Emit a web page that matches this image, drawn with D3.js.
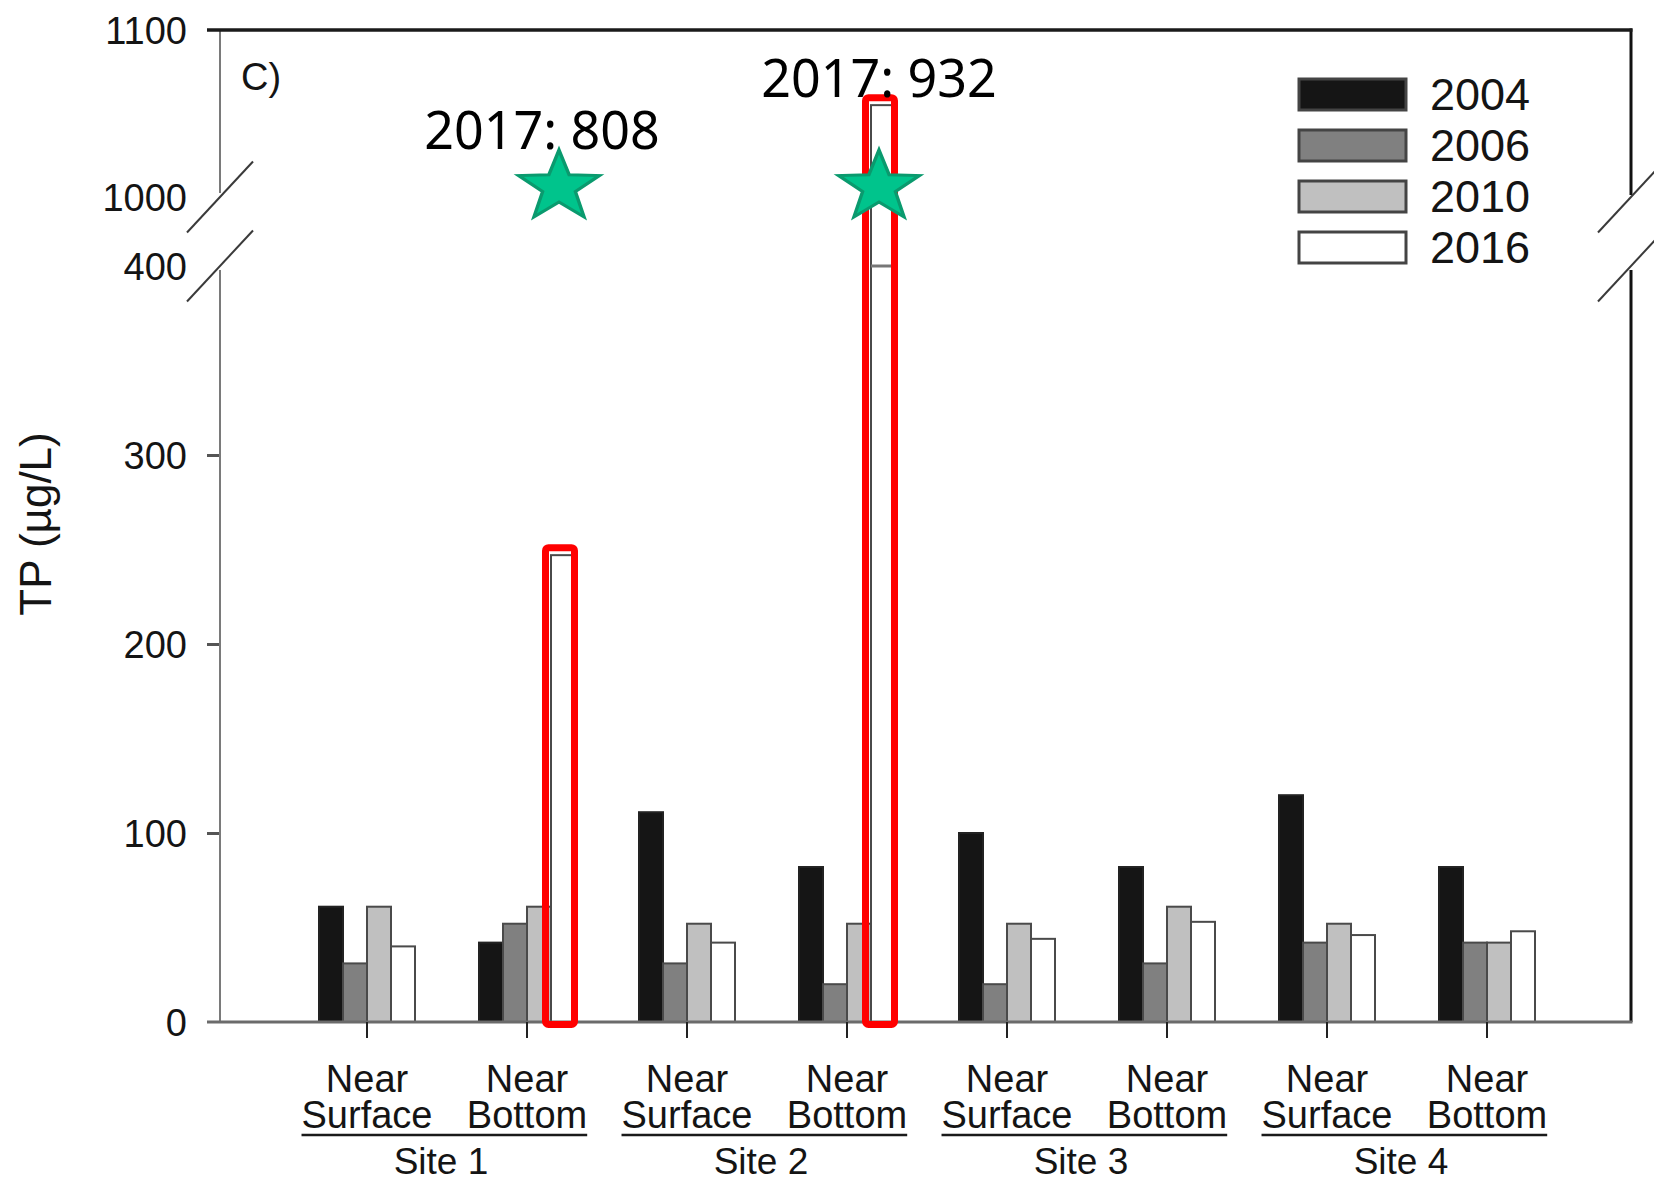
<!DOCTYPE html>
<html lang="en">
<head>
    <meta charset="UTF-8">
    <title>TP by site and depth - D3.js v7</title>
    <script src="https://d3js.org/d3.v7.min.js"></script>
    <style>
        body {
            margin: 0;
            background: #fff;
        }

        .tick-label,
        .cat-label,
        .legend-label,
        .axis-label,
        .panel-label {
            font-family: "Liberation Sans", Arial, sans-serif;
            fill: #141414;
        }

        .note {
            font-family: "Noto Sans", "Open Sans", sans-serif;
            fill: #000;
        }
    </style>
</head>
<body>
    <div id="chart"></div>

    <script>
        // data (TP, ug/L)
        const sites = ["Site 1", "Site 2", "Site 3", "Site 4"];
        const depths = ["Near Surface", "Near Bottom"];
        const years = ["2004", "2006", "2010", "2016"];

        const tp2004 = [61, 42, 111, 82, 100, 82, 120, 82];
        const tp2006 = [31, 52, 31, 20, 20, 31, 42, 42];
        const tp2010 = [61, 61, 52, 52, 52, 61, 52, 42];
        const tp2016 = [40, 247, 42, 1055, 44, 53, 46, 48];

        const yTicks = [0, 100, 200, 300, 400, 1000, 1100];
        const breakValues = [400, 1000];

        // 2017 call-outs: group index and value
        const notes = [
            { group: 1, year: "2017", value: 808 },
            { group: 3, year: "2017", value: 932 }
        ];
        const starLevel = 1006;

        const fills = { "2004": "#151515", "2006": "#808080", "2010": "#c0c0c0", "2016": "#ffffff" };

        // layout
        const W = 1654, H = 1181;
        const plotLeft = 220, plotRight = 1631, plotTop = 30, plotBottom = 1022;
        const noteShift = [-17, 0]; // the first note sits a little left of its star

        const svg = d3.select("#chart").append("svg")
            .attr("width", W)
            .attr("height", H);

        svg.append("rect").attr("width", W).attr("height", H).attr("fill", "#fff");

        // broken y scale: 0-400 below the break, 1000-1100 above
        const y = d3.scaleLinear()
            .domain([0, 400, 1000, 1100])
            .range([plotBottom, 266, 197, plotTop]);

        // groups: site x depth
        const groups = [];
        sites.forEach(s => depths.forEach(d => groups.push({ site: s, depth: d })));
        groups.forEach((g, i) => {
            g.key = i;
            g.values = { "2004": tp2004[i], "2006": tp2006[i], "2010": tp2010[i], "2016": tp2016[i] };
        });

        const x = d3.scaleBand()
            .domain(groups.map(g => g.key))
            .range([287, 1567]);

        const xYear = d3.scaleBand()
            .domain(years)
            .range([32, 128]);

        const center = k => x(k) + x.bandwidth() / 2;

        // bars
        const bars = svg.append("g").attr("class", "bars");
        groups.forEach(g => {
            years.forEach(yr => {
                const v = g.values[yr];
                bars.append("rect")
                    .attr("x", x(g.key) + xYear(yr))
                    .attr("y", y(v))
                    .attr("width", xYear.bandwidth())
                    .attr("height", y(0) - y(v))
                    .attr("fill", fills[yr])
                    .attr("stroke", yr === "2004" ? "#222" : "#4a4a4a")
                    .attr("stroke-width", 2);
                // bars that cross the break get a line at the break
                if (v > breakValues[1]) {
                    bars.append("line")
                        .attr("x1", x(g.key) + xYear(yr))
                        .attr("x2", x(g.key) + xYear(yr) + xYear.bandwidth())
                        .attr("y1", y(breakValues[0]))
                        .attr("y2", y(breakValues[0]))
                        .attr("stroke", "#777")
                        .attr("stroke-width", 3);
                }
            });
        });

        // y axis (labels + ticks)
        const yAxis = d3.axisLeft(y)
            .tickValues(yTicks)
            .tickSize(13)
            .tickPadding(20)
            .tickFormat(d3.format("d"));

        const gy = svg.append("g")
            .attr("transform", `translate(${plotLeft},0)`)
            .call(yAxis);
        gy.select(".domain").remove();
        gy.selectAll(".tick line")
            .attr("stroke", "#555")
            .attr("stroke-width", 3)
            .filter(d => breakValues.includes(d) || d === 0 || d === 1100)
            .remove();
        gy.selectAll(".tick text")
            .attr("class", "tick-label")
            .attr("font-size", 38)
            .attr("dy", "0.35em");
        gy.attr("font-family", null).attr("font-size", null);

        // axis lines with gap at the break
        const frame = svg.append("g").attr("class", "frame");
        frame.append("line")
            .attr("x1", plotLeft).attr("x2", plotLeft)
            .attr("y1", y(0)).attr("y2", y(breakValues[0]) + 4)
            .attr("stroke", "#7a7a7a").attr("stroke-width", 2);
        frame.append("line")
            .attr("x1", plotLeft).attr("x2", plotLeft)
            .attr("y1", y(breakValues[1]) - 4).attr("y2", y(1100))
            .attr("stroke", "#7a7a7a").attr("stroke-width", 2);
        frame.append("line")
            .attr("x1", plotRight).attr("x2", plotRight)
            .attr("y1", y(0)).attr("y2", y(breakValues[0]) + 4)
            .attr("stroke", "#111").attr("stroke-width", 3);
        frame.append("line")
            .attr("x1", plotRight).attr("x2", plotRight)
            .attr("y1", y(breakValues[1]) - 2).attr("y2", y(1100) - 1.5)
            .attr("stroke", "#111").attr("stroke-width", 3);
        frame.append("line")
            .attr("x1", plotLeft - 13).attr("x2", plotRight + 1.5)
            .attr("y1", y(1100)).attr("y2", y(1100))
            .attr("stroke", "#1a1a1a").attr("stroke-width", 3.5);
        frame.append("line")
            .attr("x1", plotLeft - 13).attr("x2", plotRight + 1.5)
            .attr("y1", y(0)).attr("y2", y(0))
            .attr("stroke", "#6b6b6b").attr("stroke-width", 3);

        // break marks on both sides
        [plotLeft, plotRight].forEach(px => {
            breakValues.forEach(v => {
                frame.append("line")
                    .attr("x1", px - 33).attr("y1", y(v) + 35.5)
                    .attr("x2", px + 33).attr("y2", y(v) - 35.5)
                    .attr("stroke", "#3a3a3a").attr("stroke-width", 2);
            });
        });

        // x ticks at group centres
        frame.selectAll(".xtick")
            .data(groups)
            .join("line")
            .attr("class", "xtick")
            .attr("x1", d => center(d.key)).attr("x2", d => center(d.key))
            .attr("y1", y(0)).attr("y2", y(0) + 16)
            .attr("stroke", "#222").attr("stroke-width", 2);

        // category labels (two lines in one text element)
        const cats = svg.append("g").attr("class", "cats");
        groups.forEach(g => {
            const words = g.depth.split(" ");
            const t = cats.append("text")
                .attr("class", "cat-label")
                .attr("text-anchor", "middle")
                .attr("font-size", 38);
            t.append("tspan")
                .attr("x", center(g.key))
                .attr("y", 1092)
                .text(words[0]);
            g.second = t.append("tspan")
                .attr("x", center(g.key))
                .attr("y", 1128)
                .text(words[1]);
        });
        sites.forEach(s => {
            const gs = groups.filter(g => g.site === s);
            const a = gs[0], b = gs[gs.length - 1];
            const x1 = center(a.key) - a.second.node().getComputedTextLength() / 2;
            const x2 = center(b.key) + b.second.node().getComputedTextLength() / 2;
            cats.append("line")
                .attr("x1", x1).attr("x2", x2)
                .attr("y1", 1135).attr("y2", 1135)
                .attr("stroke", "#1a1a1a").attr("stroke-width", 2.5);
            cats.append("text")
                .attr("class", "cat-label")
                .attr("x", (center(a.key) + center(b.key)) / 2 - 6)
                .attr("y", 1174)
                .attr("text-anchor", "middle")
                .attr("font-size", 37)
                .text(s);
        });

        // y axis title
        svg.append("text")
            .attr("class", "axis-label")
            .attr("transform", "translate(51,524) rotate(-90)")
            .attr("text-anchor", "middle")
            .attr("font-size", 44)
            .text("TP (\u00b5g/L)");

        // panel label
        svg.append("text")
            .attr("class", "panel-label")
            .attr("x", 241)
            .attr("y", 90)
            .attr("font-size", 38)
            .text("C)");

        // legend
        const legend = svg.append("g").attr("transform", "translate(1299,79)");
        years.forEach((yr, i) => {
            legend.append("rect")
                .attr("x", 0).attr("y", i * 51)
                .attr("width", 107).attr("height", 31)
                .attr("fill", fills[yr])
                .attr("stroke", "#444").attr("stroke-width", 3);
            legend.append("text")
                .attr("class", "legend-label")
                .attr("x", 131).attr("y", i * 51 + 31)
                .attr("font-size", 45)
                .text(yr);
        });

        // red highlight boxes, stars and 2017 notes
        const starPath = (R, r) => {
            const pts = [];
            for (let k = 0; k < 10; k++) {
                const rad = k % 2 === 0 ? R : r;
                const a = -Math.PI / 2 + k * Math.PI / 5;
                pts.push([rad * Math.cos(a), rad * Math.sin(a)]);
            }
            return "M" + pts.map(p => p.join(",")).join("L") + "Z";
        };

        const marks = svg.append("g").attr("class", "marks");
        notes.forEach((n, i) => {
            const g = groups[n.group];
            const bx = x(g.key) + xYear("2016");
            const v = g.values["2016"];
            const boxTop = y(v) - 7.5;
            marks.append("rect")
                .attr("x", bx - 5.5)
                .attr("y", boxTop)
                .attr("width", xYear.bandwidth() + 5)
                .attr("height", y(0) + 2.5 - boxTop)
                .attr("rx", 3)
                .attr("fill", "none")
                .attr("stroke", "#ff0000")
                .attr("stroke-width", 7);

            const sx = bx + xYear.bandwidth() / 2 - 4;
            const sy = y(starLevel);
            marks.append("path")
                .attr("d", starPath(37, 15))
                .attr("transform", `translate(${sx},${sy}) scale(1.15,1)`)
                .attr("fill", "#00c48c")
                .attr("stroke", "#0a9a6e")
                .attr("stroke-width", 3)
                .attr("stroke-linejoin", "miter");

            const starTop = sy - 37;
            marks.append("text")
                .attr("class", "note")
                .attr("x", sx + noteShift[i])
                .attr("y", Math.min(starTop, boxTop) - 1)
                .attr("text-anchor", "middle")
                .attr("font-size", 52)
                .text(`${n.year}: ${n.value}`);
        });
    </script>
</body>
</html>
